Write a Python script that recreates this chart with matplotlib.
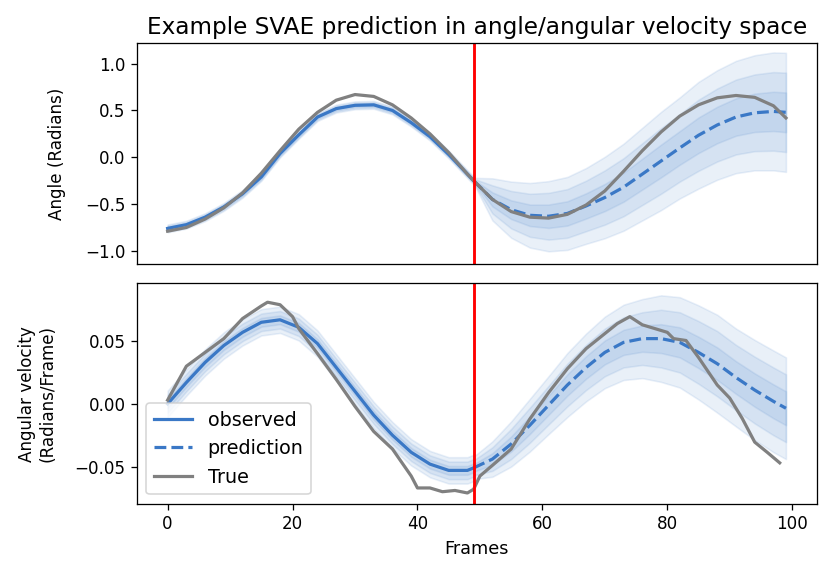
import matplotlib
matplotlib.use("Agg")
import matplotlib.pyplot as plt
import numpy as np

# angle panel
obs_frames = [0, 3, 6, 9, 12, 15, 18, 21, 24, 27, 30, 33, 36, 39, 42, 45, 48, 49]
obs_angle = [-0.76, -0.72, -0.64, -0.53, -0.39, -0.21, 0.04, 0.24, 0.43, 0.52, 0.555, 0.56,
             0.50, 0.37, 0.22, 0.03, -0.18, -0.25]
obs_angle_sd = 0.014

pred_frames = [49, 52, 55, 58, 61, 64, 67, 70, 73, 76, 79, 82, 85, 88, 91, 94, 97, 99]
pred_angle = [-0.25, -0.45, -0.56, -0.62, -0.63, -0.60, -0.52, -0.43, -0.32, -0.18, -0.04,
              0.10, 0.235, 0.345, 0.43, 0.475, 0.49, 0.48]
pred_angle_sd = [0.01, 0.075, 0.10, 0.115, 0.125, 0.13, 0.135, 0.145, 0.155, 0.165, 0.175,
                 0.18, 0.19, 0.195, 0.20, 0.205, 0.21, 0.212]

true_frames = [0, 3, 6, 9, 12, 15, 18, 21, 24, 27, 30, 33, 36, 39, 42, 45, 48, 49,
               52, 55, 58, 61, 64, 67, 70, 73, 76, 79, 82, 85, 88, 91, 94, 97, 99]
true_angle = [-0.79, -0.75, -0.66, -0.54, -0.38, -0.17, 0.07, 0.30, 0.48, 0.61, 0.67, 0.65,
              0.56, 0.42, 0.25, 0.05, -0.18, -0.25, -0.45, -0.58, -0.64, -0.65, -0.61, -0.51,
              -0.36, -0.15, 0.07, 0.27, 0.44, 0.56, 0.635, 0.66, 0.64, 0.55, 0.42]

# angular velocity panel
obs_vel = [0.0, 0.017, 0.033, 0.0465, 0.057, 0.065, 0.067, 0.061, 0.048, 0.029, 0.010,
           -0.009, -0.025, -0.0386, -0.048, -0.053, -0.053, -0.051]
obs_vel_sd = 0.0035

pred_vel = [-0.051, -0.044, -0.032, -0.017, -0.001, 0.015, 0.029, 0.041, 0.049, 0.052, 0.052,
            0.049, 0.041, 0.032, 0.021, 0.011, 0.002, -0.0035]
pred_vel_sd = [0.003, 0.0047, 0.006, 0.007, 0.0077, 0.0085, 0.009, 0.0095, 0.010, 0.0105,
               0.0115, 0.012, 0.0125, 0.013, 0.013, 0.0133, 0.0135, 0.0135]

true_vel_frames = [0, 1, 3, 6, 9, 12, 15, 16, 18, 20, 21, 24, 27, 30, 33, 36, 39, 40, 42, 44,
                   46, 48, 49, 50, 52, 55, 58, 61, 64, 67, 70, 72, 74, 76, 78, 80, 81, 83, 85,
                   88, 90, 92, 94, 96, 98]
true_vel = [0.003, 0.012, 0.030, 0.041, 0.052, 0.068, 0.078, 0.081, 0.079, 0.0695, 0.060,
            0.040, 0.0195, -0.002, -0.022, -0.036, -0.0575, -0.067, -0.067, -0.070, -0.069,
            -0.071, -0.068, -0.0575, -0.049, -0.036, -0.012, 0.009, 0.028, 0.044, 0.056,
            0.064, 0.0695, 0.063, 0.060, 0.057, 0.052, 0.0505, 0.037, 0.015, 0.0046,
            -0.0116, -0.0305, -0.0386, -0.047]

blue = '#3a78c6'
split = 49


def draw_bands(ax, x, mean, sd):
    x = np.asarray(x)
    mean = np.asarray(mean)
    sd = np.asarray(sd) * np.ones_like(mean)
    for k in (3, 2, 1):
        ax.fill_between(x, mean - k * sd, mean + k * sd, color=blue, alpha=0.11, linewidth=1)


fig, (ax1, ax2) = plt.subplots(2, 1, sharex=True, figsize=(831 / 115, 578 / 115), dpi=115)
fig.subplots_adjust(left=0.1645, right=0.983, top=0.925, bottom=0.128, hspace=0.088)

draw_bands(ax1, obs_frames, obs_angle, obs_angle_sd)
draw_bands(ax1, pred_frames, pred_angle, pred_angle_sd)
ax1.plot(obs_frames, obs_angle, color=blue, linewidth=2, label='observed')
ax1.plot(pred_frames, pred_angle, color=blue, linewidth=2, linestyle='--', label='prediction')
ax1.plot(true_frames, true_angle, color='gray', linewidth=2, label='True')
ax1.axvline(split, color='red', linewidth=1.8)
ax1.set_ylabel('Angle (Radians)', fontsize=10.5, labelpad=12)
ax1.set_title('Example SVAE prediction in angle/angular velocity space', fontsize=14.5)
ax1.set_ylim(-1.14, 1.217)
ax1.set_yticks([-1.0, -0.5, 0.0, 0.5, 1.0])
ax1.tick_params(axis='x', bottom=False, labelbottom=False)
ax1.tick_params(axis='y', labelsize=10.5)

draw_bands(ax2, obs_frames, obs_vel, obs_vel_sd)
draw_bands(ax2, pred_frames, pred_vel, pred_vel_sd)
ax2.plot(obs_frames, obs_vel, color=blue, linewidth=2, label='observed')
ax2.plot(pred_frames, pred_vel, color=blue, linewidth=2, linestyle='--', label='prediction')
ax2.plot(true_vel_frames, true_vel, color='gray', linewidth=2, label='True')
ax2.axvline(split, color='red', linewidth=1.8)
ax2.set_ylabel('Angular velocity\n(Radians/Frame)', fontsize=10.5, labelpad=11)
ax2.set_xlabel('Frames', fontsize=11)
ax2.set_ylim(-0.0798, 0.096)
ax2.set_yticks([-0.05, 0.0, 0.05])
ax2.set_xlim(-4.95, 103.95)
ax2.tick_params(labelsize=10.5)
ax2.legend(loc='lower left', fontsize=12)

fig.savefig('out.png', dpi=115)
